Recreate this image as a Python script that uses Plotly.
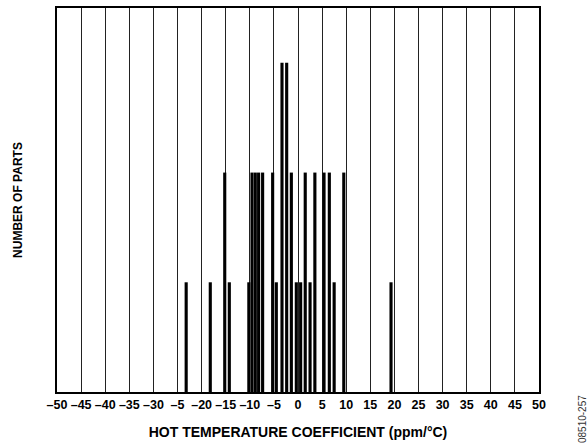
import plotly.graph_objects as go

# bin positions (ppm/°C) and part counts
tc_values = [-23.2, -18.2, -15.2, -14.25, -10.2, -9.54, -8.86, -8.17, -7.34,
             -5.26, -4.5, -3.32, -2.35, -1.38, -0.35, 0.55, 1.5, 2.5, 3.5,
             5.4, 6.5, 7.5, 9.5, 19.3]
part_counts = [1, 1, 2, 1, 1, 2, 2, 2, 2,
               2, 1, 3, 3, 2, 1, 1, 2, 1, 2,
               2, 2, 1, 2, 1]

tick_vals = list(range(-50, 55, 5))
tick_text = ['–50', '–45', '–40', '–35', '–30', '–5', '–20', '–15', '–10', '–5',
             '0', '5', '10', '15', '20', '25', '30', '35', '40', '45', '50']

fig = go.Figure(
    data=[go.Bar(x=tc_values, y=part_counts, width=0.65,
                 marker=dict(color='black', line=dict(width=0)), hoverinfo='x+y')],
    layout=go.Layout(
        width=587, height=446,
        margin=dict(l=57, r=48, t=8, b=54, autoexpand=False),
        paper_bgcolor='white', plot_bgcolor='white',
        showlegend=False,
        font=dict(family='Liberation Sans, Arial, sans-serif', color='black'),
        xaxis=dict(range=[-50, 50], tickvals=tick_vals, ticktext=tick_text,
                   showgrid=True, gridcolor='#222', gridwidth=1, zeroline=False,
                   showline=True, linecolor='black', linewidth=1.5, mirror=True,
                   ticks='', tickfont=dict(size=12.5, weight='bold'), automargin=False,
                   title=dict(text='HOT TEMPERATURE COEFFICIENT (ppm/°C)',
                              font=dict(size=14, weight='bold'), standoff=16)),
        yaxis=dict(range=[0, 3.5], showticklabels=False, showgrid=False,
                   zeroline=False, showline=True, linecolor='black', linewidth=1.5,
                   mirror=True, ticks='', automargin=False,
                   title=dict(text='NUMBER OF PARTS',
                              font=dict(size=12, weight='bold'), standoff=30)),
        annotations=[dict(text='08510-257', x=1.089, y=-0.003, xref='paper', yref='paper',
                          xanchor='center', yanchor='top', textangle=-90,
                          showarrow=False, font=dict(size=10, color='#333'))],
    )
)

fig.write_html("out.html", config={'displayModeBar': False},
               post_script="document.body.style.margin='0';")
